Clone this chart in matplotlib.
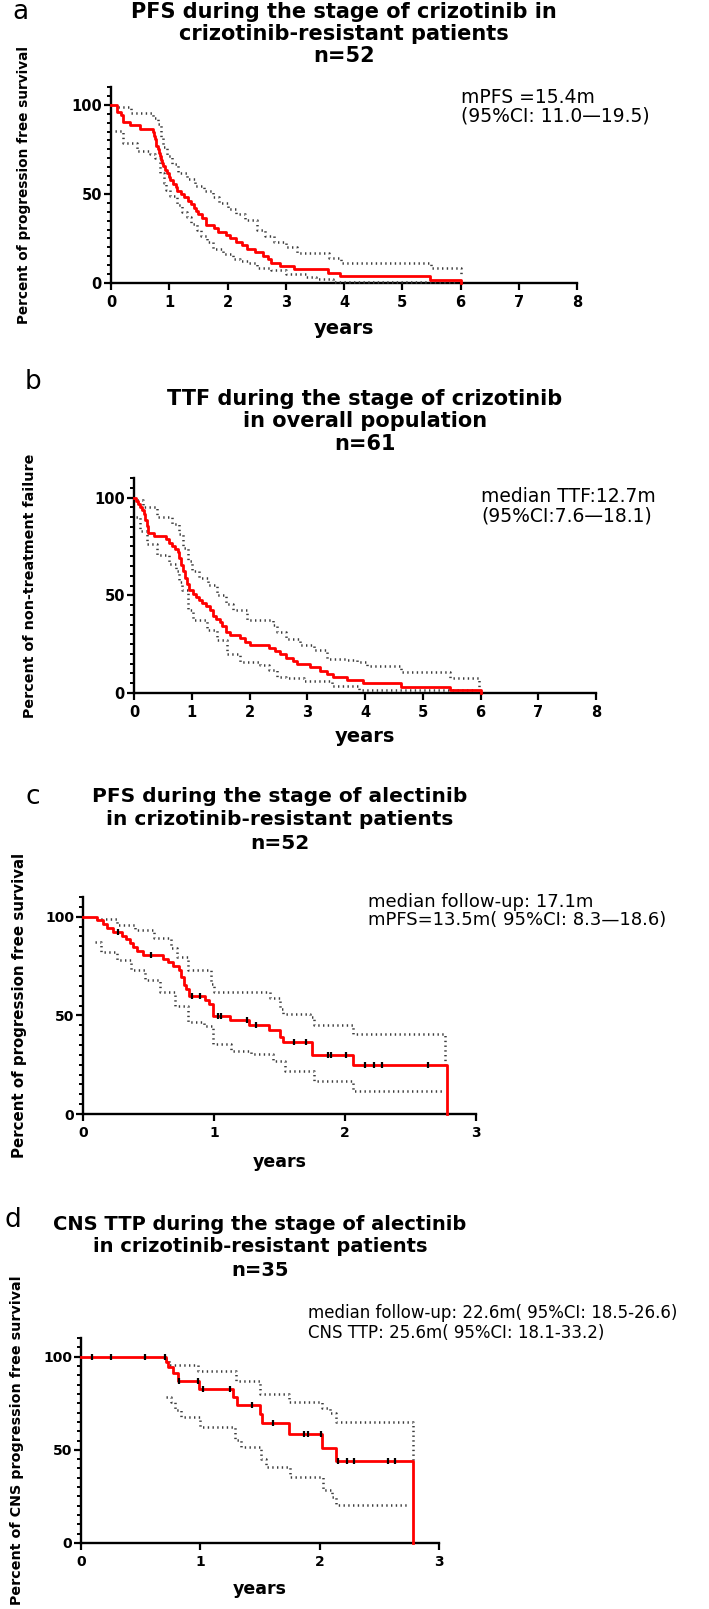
import matplotlib
matplotlib.use("Agg")
import matplotlib.pyplot as plt
import numpy as np
from matplotlib.ticker import MultipleLocator

# ---------------- data ----------------
# Panel a: PFS crizotinib (n=52)
a_time = [0.10, 0.17, 0.21, 0.33, 0.49, 0.72, 0.74, 0.76, 0.78, 0.80, 0.82, 0.84, 0.86, 0.88,
          0.90, 0.93, 0.96, 0.99, 1.02, 1.07, 1.11, 1.14, 1.20, 1.26, 1.33, 1.38, 1.42, 1.46,
          1.50, 1.56, 1.63, 1.76, 1.84, 1.98, 2.05, 2.15, 2.25, 2.33, 2.47, 2.61, 2.70, 2.75,
          2.90, 3.15, 3.73, 3.93, 5.47, 6.00]
a_surv = [96.2, 94.2, 90.4, 88.5, 86.5, 84.6, 82.7, 80.8, 76.9, 75.0, 73.1, 71.2, 69.2, 67.3,
          65.4, 63.5, 61.5, 59.6, 57.7, 55.8, 53.8, 51.9, 50.0, 48.1, 46.2, 44.2, 42.3, 40.4,
          38.5, 36.5, 32.7, 30.8, 28.8, 26.9, 25.0, 23.1, 21.2, 19.2, 17.3, 15.4, 13.5, 11.5,
          9.6, 7.7, 5.8, 3.8, 1.9, 0.0]
a_up_t = [0.12, 0.35, 0.72, 0.80, 0.85, 0.90, 0.96, 1.05, 1.15, 1.30, 1.45, 1.60, 1.75, 1.85,
          2.00, 2.15, 2.30, 2.50, 2.65, 2.80, 3.00, 3.20, 3.75, 3.95, 5.50, 6.00]
a_up_v = [98.5, 95.5, 92.5, 89.0, 82.0, 76.5, 71.0, 67.0, 62.0, 58.5, 54.6, 51.5, 48.0, 45.0,
          41.5, 38.5, 35.5, 30.0, 26.5, 23.0, 20.0, 16.8, 14.0, 11.5, 8.6, 5.0]
a_lo_t = [0.07, 0.21, 0.45, 0.67, 0.75, 0.84, 0.91, 0.95, 1.02, 1.13, 1.22, 1.30, 1.38, 1.47,
          1.55, 1.64, 1.75, 1.93, 2.10, 2.21, 2.37, 2.50, 2.75, 3.01, 3.35, 3.52, 3.81, 5.90]
a_lo_v = [85.5, 78.6, 74.0, 72.5, 70.0, 62.0, 56.4, 52.3, 49.0, 44.0, 40.0, 37.0, 33.0, 29.5,
          26.5, 23.2, 19.2, 16.2, 13.5, 12.1, 11.0, 8.4, 7.1, 4.9, 3.5, 2.4, 0.5, 0.5]

# Panel b: TTF crizotinib (n=61)
b_time = [0.04, 0.07, 0.10, 0.13, 0.17, 0.19, 0.22, 0.25, 0.35, 0.55, 0.60, 0.66, 0.71, 0.76,
          0.78, 0.81, 0.84, 0.88, 0.92, 0.96, 1.02, 1.07, 1.12, 1.17, 1.25, 1.32, 1.37, 1.42,
          1.49, 1.53, 1.60, 1.66, 1.84, 1.92, 2.00, 2.33, 2.45, 2.53, 2.64, 2.76, 2.82, 3.05,
          3.22, 3.35, 3.45, 3.69, 3.96, 4.62, 5.48, 6.00]
b_surv = [98.4, 96.7, 95.1, 93.4, 91.8, 88.5, 85.2, 82.0, 80.3, 78.7, 77.0, 75.4, 73.8, 72.1,
          68.9, 65.6, 62.3, 59.0, 55.7, 52.5, 50.8, 49.2, 47.5, 45.9, 44.3, 42.6, 39.3, 37.7,
          36.1, 34.4, 31.1, 29.5, 27.9, 26.2, 24.6, 23.0, 21.3, 19.7, 18.0, 16.4, 14.8, 13.1,
          11.5, 9.8, 8.2, 6.6, 4.9, 3.3, 1.6, 0.0]
b_up_t = [0.05, 0.16, 0.40, 0.66, 0.78, 0.85, 0.93, 1.01, 1.13, 1.28, 1.44, 1.60, 1.72, 1.95,
          2.41, 2.47, 2.64, 2.88, 3.11, 3.34, 3.69, 3.86, 4.03, 4.62, 5.48, 5.98]
b_up_v = [98.8, 95.0, 90.0, 86.6, 81.4, 74.4, 67.5, 62.2, 58.7, 55.2, 50.0, 45.7, 42.3, 37.2,
          34.6, 31.2, 27.8, 24.4, 21.8, 17.6, 16.7, 15.9, 13.7, 10.5, 7.8, 3.0]
b_lo_t = [0.04, 0.10, 0.22, 0.40, 0.60, 0.72, 0.78, 0.83, 0.94, 1.03, 1.26, 1.43, 1.61, 1.84,
          2.18, 2.33, 2.47, 2.64, 2.95, 3.42, 3.89, 5.90]
b_lo_v = [90.1, 83.1, 76.0, 70.5, 66.0, 62.5, 57.0, 52.6, 42.3, 37.2, 32.1, 27.0, 20.1, 15.9,
          14.2, 11.7, 8.2, 7.5, 6.0, 3.8, 1.5, 1.5]

# Panel c: PFS alectinib (n=52)
c_time = [0.11, 0.15, 0.18, 0.23, 0.30, 0.33, 0.36, 0.38, 0.41, 0.46, 0.61, 0.65, 0.69, 0.73,
          0.75, 0.77, 0.79, 0.81, 0.93, 0.96, 0.99, 1.12, 1.27, 1.42, 1.50, 1.53, 1.75, 2.06, 2.78]
c_surv = [98.1, 96.2, 94.2, 92.3, 90.4, 88.5, 86.5, 84.6, 82.7, 80.8, 78.8, 76.9, 75.0, 73.1,
          69.2, 65.4, 63.5, 59.6, 57.6, 55.6, 49.9, 47.6, 45.2, 42.5, 38.9, 36.4, 29.8, 24.6, 0.0]
c_cens = [0.27, 0.52, 0.83, 0.89, 1.03, 1.05, 1.25, 1.32, 1.61, 1.70, 1.87, 1.89, 2.01, 2.15,
          2.22, 2.28, 2.63]
c_up_t = [0.10, 0.26, 0.40, 0.54, 0.67, 0.72, 0.80, 0.98, 1.00, 1.43, 1.50, 1.53, 1.73, 1.76,
          2.06, 2.76]
c_up_v = [99.0, 95.8, 93.3, 89.1, 84.1, 79.7, 72.9, 66.1, 61.9, 59.0, 53.4, 50.8, 49.2, 45.0,
          40.6, 25.0]
c_lo_t = [0.09, 0.14, 0.26, 0.37, 0.47, 0.59, 0.70, 0.80, 0.92, 0.99, 1.13, 1.28, 1.45, 1.54,
          1.76, 2.06, 2.74]
c_lo_v = [87.0, 82.0, 78.0, 73.0, 68.0, 62.0, 55.0, 46.5, 44.8, 35.5, 32.0, 30.5, 27.0, 22.0,
          16.5, 11.8, 11.8]

# Panel d: CNS TTP alectinib (n=35)
d_time = [0.71, 0.73, 0.77, 0.81, 0.99, 1.27, 1.31, 1.50, 1.52, 1.74, 2.02, 2.14, 2.78]
d_surv = [97.1, 94.3, 91.4, 86.7, 82.6, 78.3, 74.1, 69.2, 64.3, 58.5, 50.9, 44.1, 0.0]
d_cens = [0.09, 0.25, 0.54, 0.70, 0.82, 0.98, 1.02, 1.25, 1.43, 1.61, 1.87, 1.90, 2.01, 2.15,
          2.23, 2.29, 2.57, 2.63]
d_up_t = [0.71, 0.74, 0.98, 1.30, 1.50, 1.74, 2.02, 2.09, 2.14, 2.78]
d_up_v = [99.0, 95.5, 92.3, 86.7, 80.0, 75.8, 72.2, 69.5, 65.0, 44.1]
d_lo_t = [0.71, 0.75, 0.79, 0.84, 1.00, 1.29, 1.34, 1.51, 1.55, 1.75, 2.03, 2.10, 2.14, 2.74]
d_lo_v = [78.5, 75.8, 71.5, 67.8, 62.4, 55.2, 51.6, 45.3, 41.0, 35.3, 28.3, 24.7, 20.3, 20.3]

titles = [
    ["PFS during the stage of crizotinib in", "crizotinib-resistant patients", "n=52"],
    ["TTF during the stage of crizotinib", "in overall population", "n=61"],
    ["PFS during the stage of alectinib", "in crizotinib-resistant patients", "n=52"],
    ["CNS TTP during the stage of alectinib", "in crizotinib-resistant patients", "n=35"],
]
ylabels = ["Percent of progression free survival", "Percent of non-treatment failure",
           "Percent of progression free survival", "Percent of CNS progression free survival"]
notes = [
    ["mPFS =15.4m", "(95%CI: 11.0\u201419.5)"],
    ["median TTF:12.7m", "(95%CI:7.6\u201418.1)"],
    ["median follow-up: 17.1m", "mPFS=13.5m( 95%CI: 8.3\u201418.6)"],
    ["median follow-up: 22.6m( 95%CI: 18.5-26.6)", "CNS TTP: 25.6m( 95%CI: 18.1-33.2)"],
]
panel_letters = ["a", "b", "c", "d"]
xlabel = "years"

# ---------------- layout (pixels) ----------------
W, H = 709, 1609
fig = plt.figure(figsize=(W / 100, H / 100), dpi=100)

FONT = "DejaVu Sans"
RED = "#ff0000"
GREY = "#3c3c3c"


def fx(x):
    return x / W


def fy(y):
    return 1 - y / H


def step_value(t, times, surv):
    times = np.asarray(times)
    surv = np.asarray(surv)
    idx = np.searchsorted(times, np.asarray(t), side="right") - 1
    return np.where(idx >= 0, surv[np.clip(idx, 0, None)], 100.0)


def panel(box, xmax, tick_fs, times, surv, up_t, up_v, lo_t, lo_v, cens=None):
    left, right, y0, ytop = box
    ax = fig.add_axes([fx(left), fy(y0), (right - left) / W, (y0 - ytop) / H])
    t = np.concatenate([[0.0], times])
    s = np.concatenate([[100.0], surv])
    ax.step(up_t, up_v, where="post", color=GREY, lw=1.8, ls=(0, (0.55, 1.35)),
            clip_on=False, zorder=3)
    ax.step(lo_t, lo_v, where="post", color=GREY, lw=1.8, ls=(0, (0.55, 1.35)),
            clip_on=False, zorder=3)
    ax.step(t, s, where="post", color=RED, lw=2.0, clip_on=False, zorder=4)
    if cens is not None:
        ax.plot(cens, step_value(cens, times, surv), ls="none", marker="|", ms=5,
                mew=1.6, color="black", zorder=5, clip_on=False)
    ax.set_xlim(0, xmax)
    ax.set_ylim(0, 110)
    ax.set_xticks(np.arange(0, xmax + 1, 1))
    ax.set_yticks([0, 50, 100])
    ax.yaxis.set_minor_locator(MultipleLocator(5))
    for sp in ["top", "right"]:
        ax.spines[sp].set_visible(False)
    for sp in ["left", "bottom"]:
        ax.spines[sp].set_linewidth(1.7)
    ax.tick_params(axis="x", which="major", length=5, width=1.6, labelsize=tick_fs, pad=3.5)
    ax.tick_params(axis="y", which="major", length=5, width=1.6, labelsize=tick_fs, pad=1.5)
    ax.tick_params(axis="y", which="minor", length=3.2, width=1.4)
    for lab in ax.get_xticklabels() + ax.get_yticklabels():
        lab.set_fontweight("bold")
        lab.set_family(FONT)
    ax.patch.set_alpha(0)
    return ax


boxes = [
    (111, 577, 283, 87),
    (134, 596, 693, 478),
    (83, 476, 1114, 897),
    (81, 439, 1543, 1338),
]
xmaxes = [8, 8, 3, 3]
tick_fs = [10.5, 10.5, 10, 10]

panel(boxes[0], xmaxes[0], tick_fs[0], a_time, a_surv, a_up_t, a_up_v, a_lo_t, a_lo_v)
panel(boxes[1], xmaxes[1], tick_fs[1], b_time, b_surv, b_up_t, b_up_v, b_lo_t, b_lo_v)
panel(boxes[2], xmaxes[2], tick_fs[2], c_time, c_surv, c_up_t, c_up_v, c_lo_t, c_lo_v, c_cens)
panel(boxes[3], xmaxes[3], tick_fs[3], d_time, d_surv, d_up_t, d_up_v, d_lo_t, d_lo_v, d_cens)

# baselines of the title lines
title_base = [(18.5, 40, 62), (405, 427, 450), (801.5, 824.5, 849.5), (1229.5, 1252.5, 1275.5)]
title_fs = [15, 15, 14.5, 14]
letter_pos = [(20, 12), (33, 382), (33, 797), (13, 1220)]
note_pos = [(461, 103, 122), (481, 502, 522), (368, 907, 925), (308, 1318, 1338)]
note_fs = [13.5, 13.5, 13, 12]
ylabel_x = [24, 30, 20, 17]
ylabel_fs = [9.8, 10.3, 10.8, 10.3]
xlabel_y = [328, 737, 1162, 1589]
xlabel_fs = [14, 14, 12.5, 12.5]

for i in range(4):
    left, right, y0, ytop = boxes[i]
    cx = (left + right) / 2
    for line, yy in zip(titles[i], title_base[i]):
        fig.text(fx(cx), fy(yy), line, ha="center", va="baseline", fontsize=title_fs[i],
                 fontweight="bold", family=FONT)
    lx, ly = letter_pos[i]
    fig.text(fx(lx), fy(ly), panel_letters[i], ha="center", va="center", fontsize=19,
             family=["Liberation Sans Narrow", "DejaVu Sans"])
    nx, n1, n2 = note_pos[i]
    fig.text(fx(nx), fy(n1), notes[i][0], ha="left", va="baseline", fontsize=note_fs[i],
             family=FONT)
    fig.text(fx(nx), fy(n2), notes[i][1], ha="left", va="baseline", fontsize=note_fs[i],
             family=FONT)
    fig.text(fx(ylabel_x[i]), fy((y0 + ytop) / 2), ylabels[i], rotation=90, ha="center",
             va="center", fontsize=ylabel_fs[i], fontweight="bold", family=FONT)
    fig.text(fx(cx), fy(xlabel_y[i]), xlabel, ha="center", va="center", fontsize=xlabel_fs[i],
             fontweight="bold", family=FONT)

fig.savefig("out.png", dpi=100)
